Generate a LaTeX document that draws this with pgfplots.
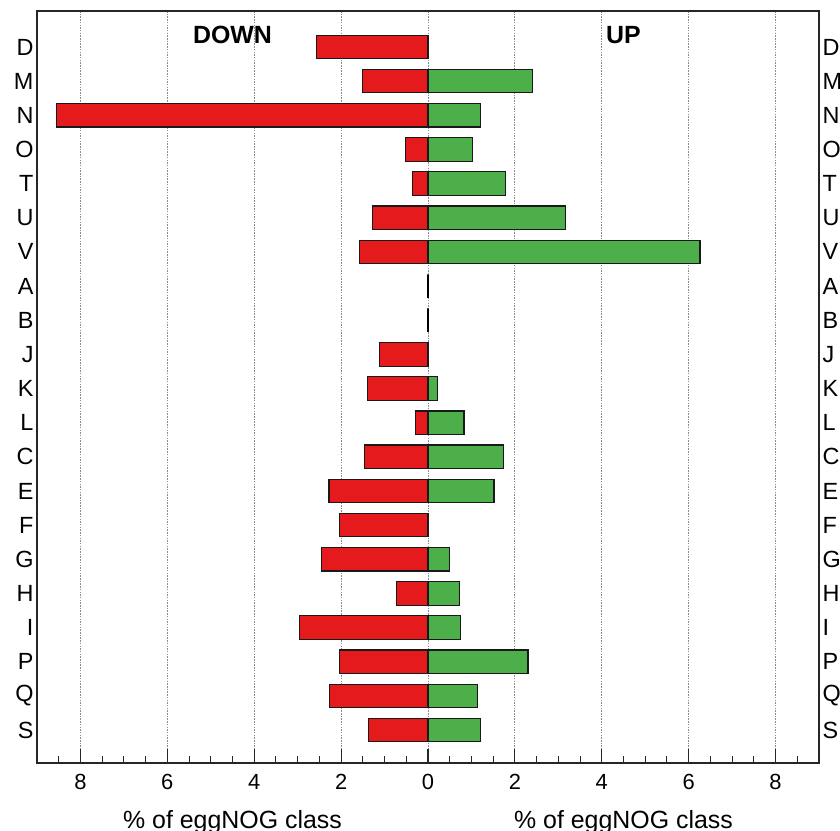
\documentclass[border=0pt]{standalone}
\usepackage{pgfplots}
\pgfplotsset{compat=1.18}
\usepackage{fontspec}
\setmainfont{Liberation Sans}
\definecolor{barred}{RGB}{228,26,28}
\definecolor{bargreen}{RGB}{77,175,74}
\begin{document}
\begin{tikzpicture}
\pgfplotsset{
  common/.style={
    width=782bp, height=752bp, scale only axis,
    xmin=-9, xmax=9,
    ymin=-1.054, ymax=20.966,
    y dir=reverse,
    /pgf/number format/assume math mode=true,
  }
}
\begin{axis}[common,
  axis line style={black!85, line width=1.1bp},
  xtick={-8,-6,-4,-2,0,2,4,6,8},
  xticklabels={8,6,4,2,0,2,4,6,8},
  minor xtick={-8.5,-7.5,-7,-6.5,-5.5,-5,-4.5,-3.5,-3,-2.5,-1.5,-1,-0.5,0.5,1,1.5,2.5,3,3.5,4.5,5,5.5,6.5,7,7.5,8.5},
  xtick pos=lower,
  tick align=inside,
  major tick length=14bp,
  minor tick length=7bp,
  tick style={black!85, line width=1.1bp},
  xmajorgrids,
  major grid style={gray!90, line width=0.9bp, dash pattern=on 1.5bp off 1.2bp},
  xticklabel style={font=\fontsize{22}{26}\selectfont, yshift=-8bp},
  ytick={0,...,20},
  yticklabels={D,M,N,O,T,U,V,A,B,J,K,L,C,E,F,G,H,I,P,Q,S},
  ytick style={draw=none},
  yticklabel style={font=\fontsize{23.5}{27}\selectfont},
  clip=false,
]
\addplot[xbar, bar shift=0pt, bar width=23.5bp, fill=barred, draw=black!90, line width=1.2bp]
coordinates {
(-2.57,0) (-1.50,1) (-8.55,2) (-0.51,3) (-0.36,4) (-1.27,5) (-1.57,6)
(-1.12,9) (-1.40,10) (-0.28,11) (-1.47,12) (-2.28,13)
(-2.04,14) (-2.45,15) (-0.72,16) (-2.96,17) (-2.04,18) (-2.27,19) (-1.37,20)
};
\addplot[xbar, bar shift=0pt, bar width=23.5bp, fill=bargreen, draw=black!90, line width=1.2bp]
coordinates {
(2.40,1) (1.21,2) (1.02,3) (1.78,4) (3.17,5) (6.26,6)
(0.21,10) (0.83,11) (1.73,12) (1.52,13)
(0.49,15) (0.72,16) (0.745,17) (2.30,18) (1.14,19) (1.21,20)
};
\addplot[xbar, bar shift=0pt, bar width=23.5bp, fill=none, draw=black, line width=1.4bp]
coordinates {(0,7) (0,8)};
\node[anchor=base, font=\fontsize{25}{30}\selectfont\bfseries] at (axis cs:-4.5,-0.117) {DOWN};
\node[anchor=base, font=\fontsize{25}{30}\selectfont\bfseries] at (axis cs:4.5,-0.117) {UP};
\node[anchor=base, font=\fontsize{25}{30}\selectfont] at (axis cs:-4.5,22.87) {\% of eggNOG class};
\node[anchor=base, font=\fontsize{25}{30}\selectfont] at (axis cs:4.5,22.87) {\% of eggNOG class};
\end{axis}
\begin{axis}[common,
  axis line style={draw=none},
  xtick=\empty,
  ytick={0,...,20},
  yticklabels={D,M,N,O,T,U,V,A,B,J,K,L,C,E,F,G,H,I,P,Q,S},
  yticklabel pos=right,
  ytick style={draw=none},
  yticklabel style={font=\fontsize{23.5}{27}\selectfont},
]
\end{axis}
\pgfresetboundingbox
\path (-37bp,-68bp) rectangle (803bp,763bp);
\end{tikzpicture}
\end{document}
